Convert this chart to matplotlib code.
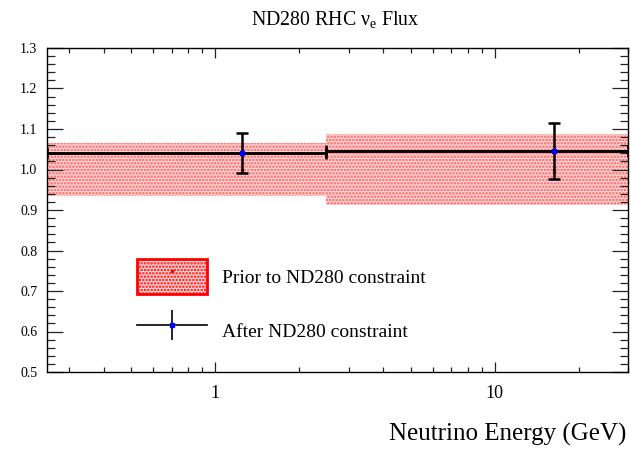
import numpy as np
import matplotlib
matplotlib.use('Agg')
import matplotlib.pyplot as plt
from matplotlib.patches import Patch
from matplotlib.lines import Line2D
from matplotlib.ticker import FixedLocator, NullFormatter, MultipleLocator, FormatStrFormatter

# ビン (GeV)
bin_edges = [0.0, 2.5, 30.0]
# 事前フラックス (中心値と誤差)
prior_val = [1.0, 1.0]
prior_err = [0.065, 0.087]
# ND280 制約後
post_val = [1.040, 1.046]
post_err = [0.049, 0.070]

x_min, x_max = 0.25, 30.0


def main():
    plt.rcParams['font.family'] = ['Liberation Serif', 'DejaVu Serif']
    plt.rcParams['mathtext.fontset'] = 'custom'
    plt.rcParams['mathtext.rm'] = 'Liberation Serif'
    plt.rcParams['hatch.linewidth'] = 1.2

    fig = plt.figure(figsize=(6.31, 4.51), dpi=100)
    ax = fig.add_axes([47 / 631, 1 - 372 / 451, 581 / 631, 324 / 451])

    edges = np.clip(np.array(bin_edges), x_min, None)
    centers = (np.array(bin_edges[:-1]) + np.array(bin_edges[1:])) / 2
    lo = edges[:-1]
    hi = edges[1:]
    pv = np.array(prior_val)
    pe = np.array(prior_err)

    # 事前の誤差帯
    ax.bar(lo, 2 * pe, bottom=pv - pe, width=hi - lo, align='edge',
           facecolor='#ffd6d6', edgecolor='#ff5a5a', hatch='.....',
           linewidth=0, zorder=1)
    ax.plot(centers, pv, ls='none', marker='s', ms=2, color='red', zorder=2)

    # 制約後
    ax.stairs(post_val, edges, baseline=None, color='black', lw=1.8, zorder=3)
    ax.errorbar(centers, post_val,
                xerr=[centers - lo, hi - centers], yerr=post_err,
                fmt='none', ecolor='black', elinewidth=1.8, capsize=4,
                capthick=1.8, zorder=3)
    ax.plot(centers, post_val, ls='none', marker='s', ms=3, color='blue', zorder=4)

    ax.set_xscale('log')
    ax.set_xlim(x_min, x_max)
    ax.set_ylim(0.5, 1.3)

    ax.xaxis.set_major_locator(FixedLocator([1, 10]))
    ax.xaxis.set_major_formatter(FormatStrFormatter('%g'))
    ax.xaxis.set_minor_locator(FixedLocator([0.3, 0.4, 0.5, 0.6, 0.7, 0.8, 0.9,
                                             2, 3, 4, 5, 6, 7, 8, 9, 20, 30]))
    ax.xaxis.set_minor_formatter(NullFormatter())
    ax.yaxis.set_major_locator(MultipleLocator(0.1))
    ax.yaxis.set_minor_locator(MultipleLocator(0.02))
    ax.yaxis.set_major_formatter(FormatStrFormatter('%.1f'))

    ax.tick_params(axis='both', which='both', direction='in', top=True, right=True,
                   width=0.9, color='#222222')
    ax.tick_params(axis='x', which='major', length=7.2, labelsize=13, pad=9)
    ax.tick_params(axis='x', which='minor', length=3.6)
    ax.tick_params(axis='y', which='major', length=11.5, labelsize=10, pad=7)
    ax.tick_params(axis='y', which='minor', length=5.8)
    for s in ax.spines.values():
        s.set_linewidth(1.0)

    fig.text(0.531, 0.955, r'ND280 RHC ν$_{\mathrm{e}}$ Flux', ha='center',
             va='center', fontsize=14.3)
    fig.text(0.992, 0.024, 'Neutrino Energy (GeV)', ha='right', va='baseline',
             fontsize=18)

    # 凡例
    h_prior = (Patch(facecolor='#ffd6d6', edgecolor='red', hatch='.....', lw=2),
               Line2D([], [], ls='none', marker='s', ms=2, color='red'))
    h_post = (Line2D([], [], color='black', lw=1.2, marker='|', ms=21,
                     mec='black', mew=1.2),
              Line2D([], [], ls='none', marker='s', ms=3, color='blue'))
    ax.legend([h_prior, h_post],
              ['Prior to ND280 constraint', 'After ND280 constraint'],
              loc='upper left', bbox_to_anchor=(137 / 631, 1 - 259 / 451),
              bbox_transform=fig.transFigure, frameon=False, fontsize=14,
              handlelength=3.6, handleheight=2.4, handletextpad=0.75,
              labelspacing=1.0, borderpad=0, borderaxespad=0)

    plt.savefig('out.png', dpi=100)


if __name__ == '__main__':
    main()
